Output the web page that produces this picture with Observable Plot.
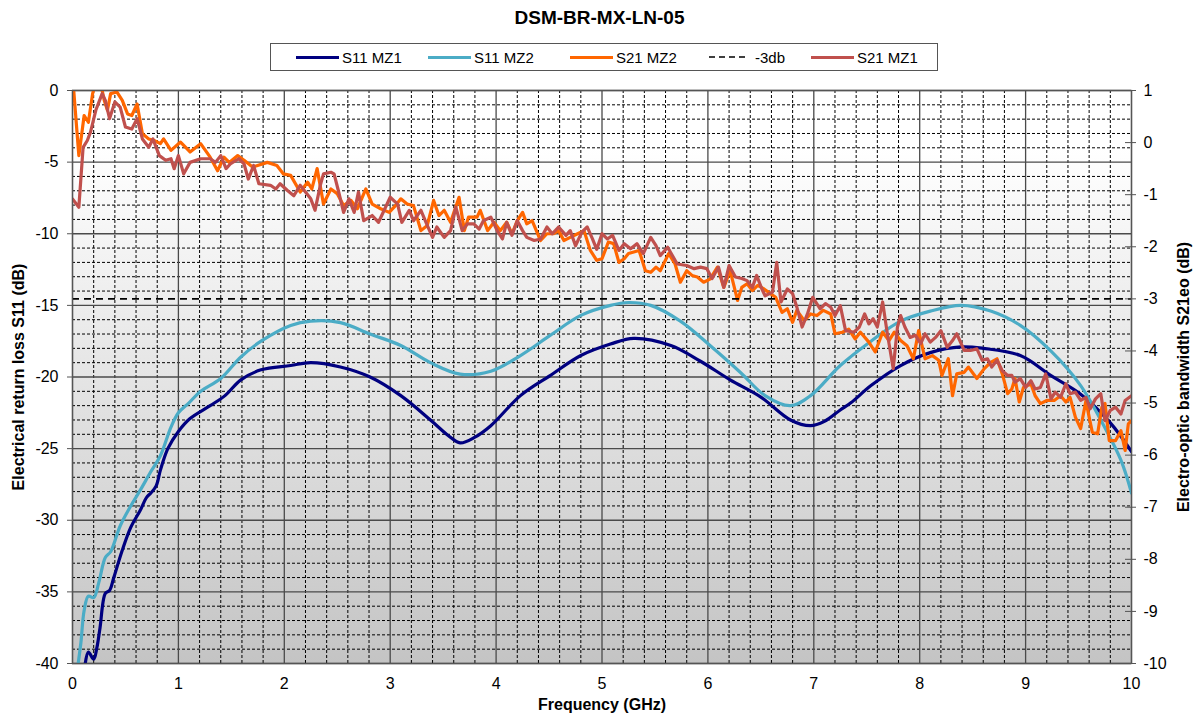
<!DOCTYPE html>
<html><head><meta charset="utf-8">
<script src="https://cdn.jsdelivr.net/npm/d3@7"></script>
<script src="https://cdn.jsdelivr.net/npm/@observablehq/plot@0.6"></script>
<style>
body{margin:0;background:#fff;font-family:"Liberation Sans",Arial,sans-serif;}
#wrap{width:1199px;height:722px;position:relative;overflow:hidden;}
#title{position:absolute;left:0;top:8px;width:1199px;text-align:center;font-weight:bold;font-size:19px;line-height:20px;}
#legend{position:absolute;left:270px;top:43px;width:668px;height:28px;border:1px solid #555;box-sizing:border-box;background:#fff;}
.item{position:absolute;top:0;height:26px;display:flex;align-items:center;font-size:15px;white-space:nowrap;}
.sw{width:43px;height:0;border-top:3px solid;margin-right:3px;}
#chart{position:absolute;left:0;top:80px;}
</style>
</head><body>
<div id="wrap">
  <div id="title">DSM-BR-MX-LN-05</div>
  <div id="legend"></div>
  <div id="chart"></div>
</div>
<script>
// ---- tick arrays ----
const xTicks = [0,1,2,3,4,5,6,7,8,9,10];
const leftTicks = [-40,-35,-30,-25,-20,-15,-10,-5,0];
const rightTicks = [-10,-9,-8,-7,-6,-5,-4,-3,-2,-1,0,1];
const threeDb = -3;

// ---- S11 MZ1 (left axis, dB) ----
const s11mz1F = [0.11,0.15,0.2,0.23,0.26,0.31,0.35,0.39,0.47,0.55,0.64,0.70,0.74,0.79,0.83,0.9,1.0,1.11,1.3,1.44,1.59,1.78,2.06,2.25,2.53,2.81,3.1,3.38,3.55,3.66,3.8,3.95,4.23,4.51,4.8,5.08,5.3,5.65,5.93,6.21,6.5,6.78,6.97,7.1,7.25,7.35,7.54,7.82,8.1,8.39,8.6,8.95,9.24,9.52,9.8,10];
const s11mz1V = [-40.6,-39.2,-39.7,-38.9,-37.5,-35.1,-34.9,-34.0,-32.1,-30.5,-29.3,-28.4,-28.1,-27.6,-26.5,-25.0,-23.8,-22.9,-22.0,-21.3,-20.2,-19.5,-19.2,-19.0,-19.3,-20.0,-21.3,-23.0,-24.1,-24.6,-24.2,-23.4,-21.3,-19.9,-18.5,-17.7,-17.3,-17.8,-18.9,-20.2,-21.4,-23.0,-23.4,-23.1,-22.3,-21.8,-20.6,-19.2,-18.3,-17.9,-18.0,-18.5,-19.9,-21.2,-23.2,-25.2];

// ---- S11 MZ2 (left axis, dB) ----
const s11mz2F = [0.05,0.08,0.11,0.15,0.2,0.25,0.31,0.36,0.45,0.55,0.64,0.74,0.83,0.93,1.0,1.1,1.21,1.4,1.59,1.78,2.06,2.25,2.53,2.81,3.1,3.38,3.66,3.95,4.23,4.51,4.8,5.08,5.25,5.46,5.74,6.02,6.31,6.54,6.78,6.97,7.25,7.54,7.82,8.1,8.39,8.67,8.95,9.24,9.52,9.71,9.9,10];
const s11mz2V = [-40.2,-38.5,-36.3,-35.3,-35.4,-34.3,-32.6,-32.2,-30.4,-29.0,-27.9,-26.6,-25.5,-23.5,-22.5,-21.8,-21.0,-20.1,-18.6,-17.5,-16.4,-16.1,-16.2,-17.0,-17.8,-19.0,-19.8,-19.6,-18.5,-17.1,-15.7,-15.0,-14.8,-15.0,-16.1,-17.8,-19.7,-21.3,-22.0,-21.3,-19.2,-17.5,-16.1,-15.4,-15.0,-15.4,-16.4,-18.2,-20.6,-23.0,-25.8,-28.1];

// ---- S21 MZ2 (right axis, dB) ----
const s21mz2F = [0.00,0.06,0.11,0.15,0.19,0.22,0.27,0.30,0.33,0.36,0.42,0.47,0.52,0.56,0.61,0.66,0.72,0.77,0.83,0.86,0.93,1.02,1.11,1.21,1.30,1.37,1.43,1.48,1.56,1.62,1.70,1.84,1.93,1.99,2.06,2.15,2.22,2.26,2.31,2.37,2.44,2.50,2.56,2.63,2.69,2.77,2.83,2.91,2.99,3.05,3.10,3.16,3.22,3.29,3.35,3.41,3.46,3.51,3.57,3.65,3.70,3.74,3.82,3.85,3.92,3.98,4.04,4.10,4.15,4.20,4.25,4.29,4.34,4.42,4.48,4.54,4.59,4.64,4.70,4.77,4.83,4.89,4.95,5.00,5.06,5.11,5.16,5.21,5.25,5.35,5.41,5.46,5.51,5.55,5.63,5.69,5.74,5.80,5.85,5.90,5.96,6.02,6.09,6.15,6.21,6.28,6.32,6.37,6.42,6.47,6.53,6.59,6.64,6.70,6.75,6.80,6.84,6.91,6.97,7.03,7.09,7.16,7.20,7.27,7.33,7.39,7.44,7.52,7.58,7.65,7.71,7.76,7.82,7.88,7.94,7.99,8.05,8.12,8.18,8.21,8.27,8.31,8.35,8.42,8.46,8.54,8.61,8.67,8.73,8.78,8.83,8.87,8.90,8.94,8.98,9.05,9.09,9.14,9.20,9.27,9.33,9.38,9.42,9.47,9.52,9.57,9.60,9.63,9.68,9.72,9.75,9.79,9.85,9.90,9.94,9.97,10.0];
const s21mz2V = [1.3,-0.25,0.52,0.39,0.94,1.15,1.1,0.81,0.62,0.94,0.97,0.81,0.55,0.52,0.74,0.17,0.07,0.04,-0.02,0.07,-0.15,0.01,-0.18,-0.02,-0.28,-0.54,-0.28,-0.38,-0.25,-0.34,-0.47,-0.38,-0.44,-0.60,-0.63,-0.95,-0.76,-0.89,-0.50,-1.18,-0.89,-0.98,-1.21,-1.11,-1.27,-0.89,-1.18,-1.27,-1.34,-1.21,-1.08,-1.18,-1.21,-1.69,-1.59,-1.11,-1.40,-1.30,-1.53,-1.05,-1.69,-1.43,-1.43,-1.30,-1.69,-1.53,-1.69,-1.53,-1.75,-1.50,-1.34,-1.56,-1.50,-1.88,-1.75,-1.75,-1.69,-1.88,-1.82,-1.75,-1.69,-2.07,-2.26,-2.23,-1.91,-1.94,-2.30,-2.23,-2.13,-2.07,-2.46,-2.49,-2.39,-2.46,-2.13,-2.33,-2.68,-2.46,-2.55,-2.58,-2.68,-2.62,-2.39,-2.78,-2.46,-3.03,-2.78,-2.71,-2.84,-2.74,-2.81,-2.90,-2.97,-3.26,-3.19,-3.45,-3.22,-3.42,-3.29,-3.32,-3.22,-3.29,-3.67,-3.64,-3.58,-3.77,-3.64,-3.83,-4.02,-3.64,-3.80,-3.64,-3.80,-3.90,-4.15,-3.61,-4.15,-4.09,-4.18,-4.47,-4.15,-4.86,-4.44,-4.41,-4.31,-4.53,-4.34,-4.22,-4.15,-4.44,-4.82,-4.73,-4.53,-4.98,-4.70,-4.63,-4.86,-5.01,-4.95,-4.95,-4.86,-4.98,-4.89,-5.27,-5.49,-4.95,-5.27,-5.56,-5.59,-5.08,-5.01,-5.72,-5.72,-5.53,-5.91,-5.40,-5.34];

// ---- S21 MZ1 (right axis, dB) ----
const s21mz1F = [0.00,0.06,0.10,0.14,0.17,0.22,0.28,0.31,0.35,0.40,0.45,0.50,0.56,0.61,0.66,0.72,0.76,0.82,0.88,0.93,0.96,1.00,1.05,1.11,1.21,1.30,1.35,1.40,1.45,1.49,1.57,1.62,1.66,1.71,1.76,1.87,1.92,1.96,2.03,2.09,2.15,2.20,2.25,2.29,2.34,2.37,2.44,2.47,2.51,2.56,2.61,2.66,2.70,2.75,2.83,2.89,3.00,3.07,3.11,3.18,3.22,3.29,3.35,3.40,3.44,3.51,3.57,3.62,3.68,3.73,3.79,3.84,3.88,3.95,4.01,4.06,4.10,4.15,4.20,4.25,4.29,4.36,4.42,4.48,4.53,4.59,4.66,4.70,4.75,4.81,4.86,4.91,4.95,5.00,5.05,5.10,5.16,5.21,5.27,5.33,5.39,5.46,5.51,5.55,5.62,5.71,5.80,5.87,5.93,5.99,6.04,6.10,6.15,6.20,6.26,6.32,6.37,6.42,6.46,6.51,6.54,6.61,6.65,6.69,6.75,6.80,6.84,6.89,6.94,6.99,7.06,7.11,7.16,7.20,7.25,7.30,7.38,7.43,7.48,7.52,7.56,7.60,7.65,7.69,7.75,7.79,7.82,7.86,7.91,7.96,8.01,8.05,8.10,8.15,8.20,8.26,8.31,8.35,8.42,8.48,8.54,8.59,8.64,8.68,8.73,8.78,8.83,8.87,8.90,8.95,9.00,9.05,9.09,9.14,9.19,9.24,9.28,9.33,9.38,9.42,9.47,9.52,9.57,9.61,9.66,9.71,9.75,9.80,9.85,9.90,9.94,10.0];
const s21mz1V = [-1.08,-1.24,-0.09,0.04,0.20,0.62,0.94,0.81,0.46,0.78,0.68,0.30,0.26,0.46,0.07,-0.09,0.07,-0.25,-0.34,-0.31,-0.50,-0.25,-0.60,-0.38,-0.31,-0.31,-0.38,-0.25,-0.50,-0.41,-0.31,-0.41,-0.70,-0.44,-0.79,-0.82,-0.89,-0.79,-0.92,-1.02,-0.82,-0.95,-1.08,-1.30,-0.82,-0.60,-0.57,-0.60,-0.92,-1.34,-1.08,-1.34,-0.95,-1.50,-1.40,-1.53,-1.05,-1.18,-1.53,-1.30,-1.50,-1.30,-1.59,-1.82,-1.62,-1.82,-1.69,-1.24,-1.69,-1.56,-1.56,-1.66,-1.50,-1.43,-1.69,-1.85,-1.53,-1.78,-1.50,-1.69,-1.82,-1.88,-1.85,-1.62,-1.75,-1.62,-1.78,-1.69,-1.98,-1.72,-1.62,-1.85,-2.05,-1.75,-1.85,-1.78,-2.07,-1.94,-2.04,-1.94,-2.13,-1.82,-1.98,-2.17,-2.01,-2.33,-2.36,-2.42,-2.39,-2.42,-2.61,-2.39,-2.78,-2.36,-2.58,-2.61,-2.65,-2.78,-2.55,-2.81,-2.94,-2.87,-2.30,-3.06,-2.81,-2.90,-3.16,-3.54,-3.29,-2.97,-3.19,-3.09,-3.16,-3.32,-3.13,-3.61,-3.64,-3.54,-3.29,-3.48,-3.38,-3.54,-3.06,-3.61,-4.34,-3.54,-3.32,-3.54,-3.74,-3.70,-3.86,-3.67,-3.83,-3.74,-3.61,-3.93,-3.80,-3.67,-3.99,-3.99,-3.96,-4.18,-4.15,-4.31,-4.18,-4.38,-4.47,-4.47,-4.60,-4.53,-4.70,-4.57,-4.73,-4.70,-4.44,-4.92,-4.79,-4.89,-4.63,-4.82,-4.79,-4.95,-4.89,-5.11,-4.92,-4.82,-5.34,-5.14,-5.08,-5.21,-4.95,-4.86];

// ---- series definitions ----
const seriesNames = ["S11 MZ1","S11 MZ2","S21 MZ2","-3db","S21 MZ1"];
const seriesColors = ["#000080","#4bacc6","#ff6600","#000000","#c0504d"];

// right axis (-10..1) mapped onto left axis (-40..0)
const toLeft = r => (r - 1) * 40 / 11;
const fromLeft = v => Math.round(v * 11 / 40 + 1);

const zip = (F, V, map = v => v) => F.map((f, i) => ({f, v: map(V[i])}));
const d11a = zip(s11mz1F, s11mz1V);
const d11b = zip(s11mz2F, s11mz2V);
const d21b = zip(s21mz2F, s21mz2V, toLeft);
const d21a = zip(s21mz1F, s21mz1V, toLeft);

const xMinor = d3.range(0, 51).map(i => i / 5).filter(v => Math.abs(v - Math.round(v)) > 1e-9);
const yMinor = d3.range(-40, 1).filter(v => v % 5 !== 0);
const font = "'Liberation Sans', Arial, sans-serif";

const plot = Plot.plot({
  width: 1199,
  height: 642,
  marginTop: 10,
  marginBottom: 59,
  marginLeft: 72,
  marginRight: 68,
  style: {fontFamily: font, fontSize: "16px", color: "#000", background: "transparent"},
  x: {domain: [0, 10]},
  y: {domain: [-40, 0]},
  marks: [
    Plot.frame({fill: "url(#bgGrad)", stroke: "none"}),
    Plot.ruleX(xMinor, {stroke: "#000", strokeWidth: 1, strokeDasharray: "3,2"}),
    Plot.ruleY(yMinor, {stroke: "#000", strokeWidth: 1, strokeDasharray: "3,2"}),
    Plot.ruleX(xTicks, {stroke: "#4a4a4a", strokeWidth: 1.3}),
    Plot.ruleY(leftTicks, {stroke: "#4a4a4a", strokeWidth: 1.3}),
    Plot.line(d11a, {x: "f", y: "v", stroke: seriesColors[0], strokeWidth: 3.2, curve: "catmull-rom", clip: true}),
    Plot.line(d11b, {x: "f", y: "v", stroke: seriesColors[1], strokeWidth: 3.2, curve: "catmull-rom", clip: true}),
    Plot.line(d21b, {x: "f", y: "v", stroke: seriesColors[2], strokeWidth: 3.2, clip: true}),
    Plot.ruleY([toLeft(threeDb)], {stroke: seriesColors[3], strokeWidth: 1.7, strokeDasharray: "7,5"}),
    Plot.line(d21a, {x: "f", y: "v", stroke: seriesColors[4], strokeWidth: 3.2, clip: true}),
    Plot.frame({stroke: "#555", strokeWidth: 1.3}),
    Plot.axisX({ticks: xTicks, tickSize: 0, tickPadding: 14, tickFormat: d => String(d), label: null, fontSize: 16}),
    Plot.axisY({anchor: "left", ticks: leftTicks, tickSize: 5, tickPadding: 9, tickFormat: d => String(d), label: null, fontSize: 16, stroke: "#555"}),
    Plot.axisY({anchor: "right", ticks: rightTicks.map(toLeft), tickSize: 11, dx: -7, tickFormat: () => "", label: null, stroke: "#555"}),
    Plot.axisY({anchor: "right", ticks: rightTicks.map(toLeft), tickSize: 0, tickPadding: 12, tickFormat: d => String(fromLeft(d)), label: null, fontSize: 16}),
    Plot.text(["Frequency (GHz)"], {text: d => d, frameAnchor: "bottom", dy: 46, fontWeight: "bold", fontSize: 16}),
    Plot.text(["Electrical return loss S11 (dB)"], {text: d => d, frameAnchor: "left", textAnchor: "middle", dx: -54, rotate: -90, fontWeight: "bold", fontSize: 16}),
    Plot.text(["Electro-optic bandwidth S21eo (dB)"], {text: d => d, frameAnchor: "right", textAnchor: "middle", dx: 52, rotate: -90, fontWeight: "bold", fontSize: 16})
  ]
});

const ns = "http://www.w3.org/2000/svg";
const defs = document.createElementNS(ns, "defs");
defs.innerHTML = '<linearGradient id="bgGrad" x1="0" y1="0" x2="0" y2="1">' +
  '<stop offset="0" stop-color="#ffffff"/><stop offset="0.1" stop-color="#ffffff"/>' +
  '<stop offset="1" stop-color="#c4c4c4"/></linearGradient>';
plot.insertBefore(defs, plot.firstChild);
document.getElementById("chart").appendChild(plot);

// legend
const legendLeft = [25, 157, 299, 438, 540];
const legend = document.getElementById("legend");
seriesNames.forEach((name, i) => {
  const it = document.createElement("div");
  it.className = "item";
  it.style.left = legendLeft[i] + "px";
  if (name === "-3db") {
    const s = document.createElementNS(ns, "svg");
    s.setAttribute("width", "40");
    s.setAttribute("height", "6");
    s.style.marginRight = "6px";
    const ln = document.createElementNS(ns, "line");
    ln.setAttribute("x1", "0"); ln.setAttribute("x2", "40");
    ln.setAttribute("y1", "3"); ln.setAttribute("y2", "3");
    ln.setAttribute("stroke", seriesColors[i]);
    ln.setAttribute("stroke-width", "1.7");
    ln.setAttribute("stroke-dasharray", "6,4");
    s.appendChild(ln);
    it.appendChild(s);
  } else {
    const sw = document.createElement("span");
    sw.className = "sw";
    sw.style.borderTopColor = seriesColors[i];
    it.appendChild(sw);
  }
  const t = document.createElement("span");
  t.textContent = name;
  it.appendChild(t);
  legend.appendChild(it);
});
</script>
</body></html>
